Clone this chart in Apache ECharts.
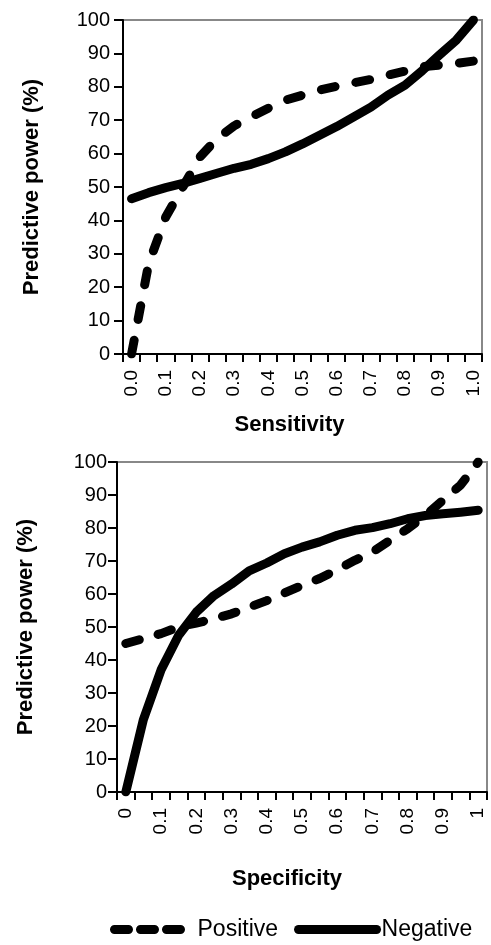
<!DOCTYPE html>
<html>
<head>
<meta charset="utf-8">
<script src="https://cdn.jsdelivr.net/npm/echarts@6/dist/echarts.min.js"></script>
<style>
html,body{margin:0;padding:0;background:#fff;}
#chart{width:491px;height:945px;}
</style>
</head>
<body>
<div id="chart"></div>
<script>
// Category positions (sensitivity / specificity in steps of 0.05)
var categories = ['0.00','0.05','0.10','0.15','0.20','0.25','0.30','0.35','0.40','0.45','0.50','0.55','0.60','0.65','0.70','0.75','0.80','0.85','0.90','0.95','1.00'];
// Tick labels shown on every other category
var topTickLabels = ['0.0','0.1','0.2','0.3','0.4','0.5','0.6','0.7','0.8','0.9','1.0'];
var bottomTickLabels = ['0','0.1','0.2','0.3','0.4','0.5','0.6','0.7','0.8','0.9','1'];
var yTicks = [0,10,20,30,40,50,60,70,80,90,100];

// Top panel: predictive power vs sensitivity
var topPositive = [0, 27, 41, 50, 59, 64.5, 68.3, 71, 73.6, 76, 77.5, 79, 80.2, 81.2, 82.2, 83.5, 84.7, 86, 86.5, 87, 87.7];
var topNegative = [46.5, 48.3, 49.8, 51.1, 52.6, 54.1, 55.6, 56.8, 58.5, 60.5, 62.9, 65.5, 68.1, 71, 73.9, 77.5, 80.5, 84.8, 89.5, 94, 100];

// Bottom panel: predictive power vs specificity
var bottomPositive = [45, 46.5, 48, 50, 51.2, 52.5, 54, 56, 58, 60.3, 62.6, 64.7, 67.4, 70.2, 72.7, 76.3, 79.8, 83.8, 88.4, 93, 100];
var bottomNegative = [0, 22, 37, 47.5, 54.5, 59.5, 63, 67, 69.4, 72.2, 74.2, 75.8, 77.8, 79.3, 80.1, 81.3, 82.8, 83.8, 84.3, 84.8, 85.4];

var FONT = '"Liberation Sans", Arial, sans-serif';
var chart = echarts.init(document.getElementById('chart'), null, {renderer: 'canvas'});

function xAxisFor(gridIndex, labels, name, nameGap, namePad) {
  return {
    type: 'category', gridIndex: gridIndex, data: categories, boundaryGap: true,
    axisLine: {show: true, lineStyle: {color: '#000', width: 2}},
    axisTick: {show: true, interval: 0, length: 8, lineStyle: {color: '#000', width: 2}},
    axisLabel: {
      interval: 1, rotate: 90, margin: 16, fontSize: 19, color: '#000', fontFamily: FONT,
      formatter: function (v, i) { return labels[Math.round(i / 2)]; }
    },
    splitLine: {show: false},
    name: name, nameLocation: 'middle', nameGap: nameGap,
    nameTextStyle: {fontSize: 22, fontWeight: 'bold', color: '#000', fontFamily: FONT, padding: namePad}
  };
}
function yAxisFor(gridIndex, margin) {
  return {
    type: 'value', gridIndex: gridIndex, min: yTicks[0], max: yTicks[yTicks.length - 1], interval: 10,
    axisLine: {show: true, lineStyle: {color: '#000', width: 2}},
    axisTick: {show: true, length: 9, lineStyle: {color: '#000', width: 2}},
    axisLabel: {margin: margin, fontSize: 20, color: '#000', fontFamily: FONT},
    splitLine: {show: false},
    name: 'Predictive power (%)', nameLocation: 'middle', nameGap: 80,
    nameTextStyle: {fontSize: 22, fontWeight: 'bold', color: '#000', fontFamily: FONT}
  };
}

var dashTop = {color: '#000', width: 9, type: [14, 21.2], cap: 'round', join: 'round'};
var dashBottom = {color: '#000', width: 9, type: [14, 19.5], cap: 'round', join: 'round'};
var solidStyle = {color: '#000', width: 9, type: 'solid', cap: 'round', join: 'round'};

chart.setOption({
  animation: false,
  backgroundColor: '#fff',
  color: ['#000'],
  grid: [
    {left: 123, right: 9, top: 20, bottom: 591, show: true, borderColor: '#888', borderWidth: 2, containLabel: false},
    {left: 117, right: 4, top: 462, bottom: 153, show: true, borderColor: '#888', borderWidth: 2, containLabel: false}
  ],
  xAxis: [
    xAxisFor(0, topTickLabels, 'Sensitivity', 60, [0, 26, 0, 0]),
    xAxisFor(1, bottomTickLabels, 'Specificity', 76, [0, 30, 0, 0])
  ],
  yAxis: [yAxisFor(0, 13), yAxisFor(1, 10)],
  legend: {
    left: 110, top: 918, itemWidth: 78, itemHeight: 20, itemGap: 16, padding: 0,
    itemStyle: {opacity: 0},
    lineStyle: {width: 9, cap: 'round'},
    textStyle: {fontSize: 23, color: '#000', fontFamily: FONT},
    data: [
      {name: 'Positive', lineStyle: {type: [14, 12], width: 9, cap: 'round'}},
      {name: 'Negative', lineStyle: {width: 9, cap: 'round'}}
    ]
  },
  series: [
    {name: 'Positive', type: 'line', xAxisIndex: 0, yAxisIndex: 0, data: topPositive, symbol: 'none', itemStyle: {color: '#000'}, lineStyle: dashTop, z: 3},
    {name: 'Negative', type: 'line', xAxisIndex: 0, yAxisIndex: 0, data: topNegative, symbol: 'none', itemStyle: {color: '#000'}, lineStyle: solidStyle, z: 2},
    {name: 'Positive', type: 'line', xAxisIndex: 1, yAxisIndex: 1, data: bottomPositive, symbol: 'none', itemStyle: {color: '#000'}, lineStyle: dashBottom, z: 3},
    {name: 'Negative', type: 'line', xAxisIndex: 1, yAxisIndex: 1, data: bottomNegative, symbol: 'none', itemStyle: {color: '#000'}, lineStyle: solidStyle, z: 2}
  ]
});
</script>
</body>
</html>
